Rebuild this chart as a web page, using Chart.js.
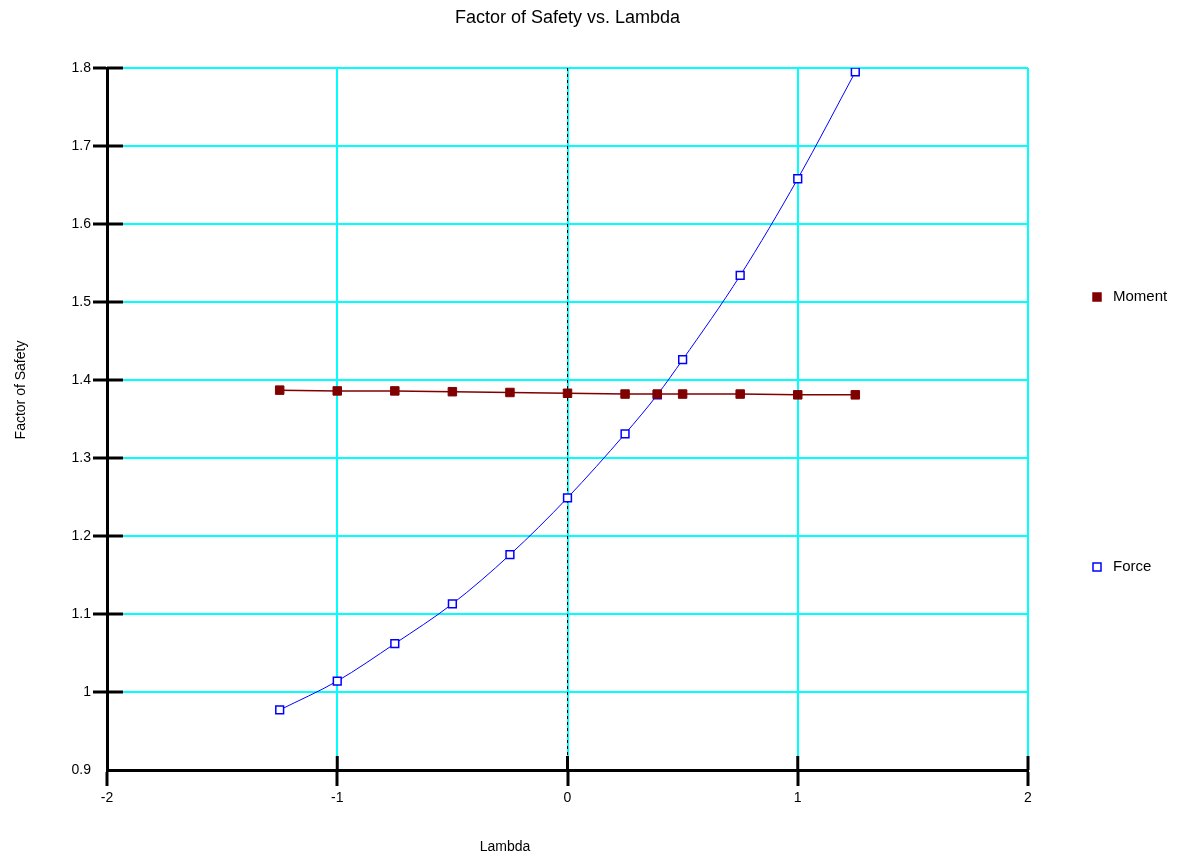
<!DOCTYPE html>
<html>
<head>
<meta charset="utf-8">
<title>Factor of Safety vs. Lambda</title>
<script src="https://cdn.jsdelivr.net/npm/chart.js@4/dist/chart.umd.min.js"></script>
<style>
  html, body { margin: 0; padding: 0; background: #fff; }
  #wrap { width: 1188px; height: 861px; position: relative; }
</style>
</head>
<body>
<div id="wrap"><canvas id="fos-chart"></canvas></div>
<script>
// data
const lambdaValues = [-1.25, -1, -0.75, -0.5, -0.25, 0, 0.25, 0.39, 0.5, 0.75, 1, 1.25];
const momentFS = [1.387, 1.386, 1.386, 1.385, 1.384, 1.383, 1.382, 1.382, 1.382, 1.382, 1.381, 1.381];
const forceFS = [0.977, 1.014, 1.062, 1.113, 1.176, 1.249, 1.331, 1.381, 1.426, 1.534, 1.658, 1.795];
const xTickLabels = ['-2', '-1', '0', '1', '2'];
const yTickLabels = ['0.9', '1', '1.1', '1.2', '1.3', '1.4', '1.5', '1.6', '1.7', '1.8'];

const FONT = '"Liberation Sans", Arial, sans-serif';
const MOMENT_COLOR = '#800000';
const FORCE_COLOR = '#0000ff';
const GRID_COLOR = '#00ffff';

function toPoints(xs, ys) {
  return xs.map((x, i) => ({ x, y: ys[i] }));
}

// inner halves of the tick marks, dashed zero line, axis titles, legend
const extrasPlugin = {
  id: 'extras',
  beforeDatasetsDraw(chart) {
    const { ctx, chartArea, scales } = chart;
    const x0 = scales.x.getPixelForValue(0);
    ctx.save();
    ctx.strokeStyle = '#000';
    ctx.lineWidth = 1;
    ctx.setLineDash([3, 3]);
    ctx.beginPath();
    ctx.moveTo(x0, chartArea.top);
    ctx.lineTo(x0, chartArea.bottom);
    ctx.stroke();
    ctx.restore();
  },
  afterDraw(chart) {
    const { ctx, chartArea, scales } = chart;
    ctx.save();
    ctx.strokeStyle = '#000';
    ctx.lineWidth = 3;
    // y ticks, inside part
    scales.y.ticks.forEach((t) => {
      if (t.value <= 0.9) return;
      const py = scales.y.getPixelForValue(t.value);
      ctx.beginPath();
      ctx.moveTo(chartArea.left, py);
      ctx.lineTo(chartArea.left + 16, py);
      ctx.stroke();
    });
    // x ticks, inside part
    scales.x.ticks.forEach((t) => {
      if (t.value <= -2) return;
      const px = scales.x.getPixelForValue(t.value);
      ctx.beginPath();
      ctx.moveTo(px, chartArea.bottom);
      ctx.lineTo(px, chartArea.bottom - 14);
      ctx.stroke();
    });

    // axis titles
    ctx.fillStyle = '#000';
    ctx.font = '14px ' + FONT;
    ctx.textAlign = 'center';
    ctx.textBaseline = 'middle';
    ctx.fillText('Lambda', 505, 847);
    ctx.translate(21, 390);
    ctx.rotate(-Math.PI / 2);
    ctx.fillText('Factor of Safety', 0, 0);
    ctx.restore();

    // legend
    ctx.save();
    const items = [
      { ds: chart.data.datasets[0], y: 297 },
      { ds: chart.data.datasets[1], y: 567 },
    ];
    items.forEach(({ ds, y }) => {
      ctx.fillStyle = ds.pointBackgroundColor;
      ctx.strokeStyle = ds.pointBorderColor;
      ctx.lineWidth = 1.5;
      ctx.fillRect(1093, y - 4, 8, 8);
      ctx.strokeRect(1093, y - 4, 8, 8);
      ctx.fillStyle = '#000';
      ctx.font = '15px ' + FONT;
      ctx.textAlign = 'left';
      ctx.textBaseline = 'middle';
      ctx.fillText(ds.label, 1113, y);
    });
    ctx.restore();
  },
};

new Chart(document.getElementById('fos-chart'), {
  type: 'line',
  data: {
    datasets: [
      {
        label: 'Moment',
        data: toPoints(lambdaValues, momentFS),
        borderColor: MOMENT_COLOR,
        borderWidth: 1.5,
        pointStyle: 'rect',
        pointRadius: 6,
        pointBackgroundColor: MOMENT_COLOR,
        pointBorderColor: MOMENT_COLOR,
        pointBorderWidth: 1,
        tension: 0,
      },
      {
        label: 'Force',
        data: toPoints(lambdaValues, forceFS),
        borderColor: FORCE_COLOR,
        borderWidth: 1,
        pointStyle: 'rect',
        pointRadius: 5.5,
        pointBackgroundColor: '#ffffff',
        pointBorderColor: FORCE_COLOR,
        pointBorderWidth: 1.5,
        cubicInterpolationMode: 'monotone',
      },
    ],
  },
  options: {
    responsive: true,
    maintainAspectRatio: false,
    animation: false,
    layout: { padding: { top: 0, right: 160, bottom: 0, left: 0 } },
    plugins: {
      legend: { display: false },
      tooltip: { enabled: false },
      title: {
        display: true,
        text: 'Factor of Safety vs. Lambda',
        fullSize: false,
        color: '#000',
        font: { family: FONT, size: 18, weight: 'normal' },
        padding: { top: 7, bottom: 39.4 },
      },
    },
    scales: {
      x: {
        type: 'linear',
        min: -2,
        max: 2,
        afterFit: (scale) => { scale.height = 91; },
        afterBuildTicks: (scale) => {
          scale.ticks = xTickLabels.map((v) => ({ value: Number(v) }));
        },
        ticks: {
          stepSize: 1,
          color: '#000',
          padding: 4,
          font: { family: FONT, size: 14 },
          callback: (v) => xTickLabels.find((l) => Number(l) === v),
        },
        grid: {
          color: GRID_COLOR,
          lineWidth: 2,
          tickColor: '#000',
          tickWidth: 3,
          tickLength: 16,
        },
        border: { color: '#000', width: 3 },
      },
      y: {
        type: 'linear',
        min: 0.9,
        max: 1.8,
        afterFit: (scale) => { scale.width = 107; },
        afterBuildTicks: (scale) => {
          scale.ticks = yTickLabels.map((v) => ({ value: Number(v) }));
        },
        ticks: {
          color: '#000',
          padding: 2,
          font: { family: FONT, size: 14 },
          callback: (v) => yTickLabels.find((l) => Math.abs(Number(l) - v) < 1e-9),
        },
        grid: {
          color: GRID_COLOR,
          lineWidth: 2,
          tickColor: (c) => (c.tick && c.tick.value <= 0.9 ? 'rgba(0,0,0,0)' : '#000'),
          tickWidth: 3,
          tickLength: 14,
        },
        border: { color: '#000', width: 3 },
      },
    },
  },
  plugins: [extrasPlugin],
});
</script>
</body>
</html>
